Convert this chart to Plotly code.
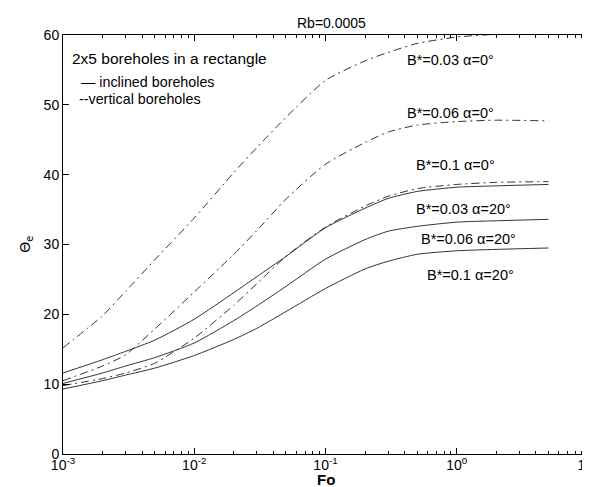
import plotly.graph_objects as go

# ---- data ----
fo = [0.001, 0.002, 0.003, 0.005, 0.01, 0.02, 0.03, 0.05, 0.1, 0.2, 0.3, 0.5, 1, 2, 5]

vert_003 = [15.2, 19.8, 23.3, 27.8, 33.8, 40.3, 43.9, 48.2, 53.5, 56.3, 57.5, 58.8, 59.7, 60.1, 60.3]
vert_006 = [10.5, 12.6, 14.2, 17.9, 23.2, 28.6, 32.0, 36.5, 41.5, 44.6, 46.1, 47.1, 47.6, 47.8, 47.7]
vert_010 = [9.8, 10.8, 11.6, 13.0, 16.6, 21.3, 24.4, 28.3, 32.5, 35.5, 36.9, 38.0, 38.6, 38.9, 39.0]
incl_003 = [11.6, 13.5, 14.7, 16.3, 19.3, 23.1, 25.4, 28.3, 32.4, 35.2, 36.6, 37.6, 38.2, 38.4, 38.6]
incl_006 = [10.1, 11.6, 12.6, 13.8, 15.9, 19.1, 21.2, 24.0, 27.9, 30.7, 31.9, 32.6, 33.2, 33.4, 33.6]
incl_010 = [9.3, 10.5, 11.3, 12.3, 14.1, 16.4, 18.0, 20.4, 23.7, 26.5, 27.6, 28.6, 29.1, 29.3, 29.5]

series = [
    ("B*=0.03 α=0°", vert_003, "vertical"),
    ("B*=0.06 α=0°", vert_006, "vertical"),
    ("B*=0.1 α=0°", vert_010, "vertical"),
    ("B*=0.03 α=20°", incl_003, "inclined"),
    ("B*=0.06 α=20°", incl_006, "inclined"),
    ("B*=0.1 α=20°", incl_010, "inclined"),
]

# curve label positions (log10 Fo, value)
label_pos = [(-0.051, 56.4), (-0.044, 48.9), (-0.013, 41.4),
             (0.055, 35.1), (0.093, 30.8), (0.101, 25.6)]

title_text = "Rb=0.0005"
x_title = "Fo"
y_title = "Θ<sub>e</sub>"
y_ticks = [0, 10, 20, 30, 40, 50, 60]
x_tickvals = [0.001, 0.01, 0.1, 1, 10]
x_ticktext = ["10<sup>-3</sup>", "10<sup>-2</sup>", "10<sup>-1</sup>", "10<sup>0</sup>", "10<sup>1</sup>"]

FONT = "Liberation Sans, Arial, sans-serif"

fig = go.Figure()
for name, vals, kind in series:
    fig.add_trace(go.Scatter(
        x=fo, y=vals, mode="lines", name=name,
        line=dict(color="#333333", width=1,
                  dash="solid" if kind == "inclined" else "8px,4px,2px,4px",
                  shape="spline", smoothing=0.6),
        showlegend=False,
    ))

annotations = []
for (name, _, _), (lx, ly) in zip(series, label_pos):
    annotations.append(dict(x=lx, y=ly, xref="x", yref="y", text=name,
                            showarrow=False, font=dict(size=14.5, color="black", family=FONT),
                            xanchor="center", yanchor="middle"))

annotations += [
    dict(x=0.511, y=1.0286, xref="paper", yref="paper", text=title_text,
         showarrow=False, xanchor="center", yanchor="middle",
         font=dict(size=14, color="black", family=FONT)),
    dict(x=-2.950, y=56.7, xref="x", yref="y", text="2x5 boreholes in a rectangle",
         showarrow=False, xanchor="left", yanchor="middle",
         font=dict(size=15.5, color="black", family=FONT)),
    dict(x=-2.875, y=53.2, xref="x", yref="y", text="— inclined boreholes",
         showarrow=False, xanchor="left", yanchor="middle",
         font=dict(size=14.3, color="black", family=FONT)),
    dict(x=-2.890, y=50.9, xref="x", yref="y", text="--vertical boreholes",
         showarrow=False, xanchor="left", yanchor="middle",
         font=dict(size=14.3, color="black", family=FONT)),
    dict(x=0.5, y=-0.0597, xref="paper", yref="paper", text="<b>" + x_title + "</b>",
         showarrow=False, xanchor="center", yanchor="middle",
         font=dict(size=15, color="black", family=FONT)),
    dict(x=-0.072, y=0.5, xref="paper", yref="paper", text=y_title, textangle=-90,
         showarrow=False, xanchor="center", yanchor="middle",
         font=dict(size=14, color="black", family="DejaVu Sans, sans-serif")),
]

fig.update_layout(
    width=590, height=487,
    margin=dict(l=55, r=10, t=27, b=41),
    paper_bgcolor="white", plot_bgcolor="white",
    font=dict(family=FONT, size=14, color="black"),
    annotations=annotations,
    xaxis=dict(type="log", range=[-3, 1], tickvals=x_tickvals, ticktext=x_ticktext,
               showgrid=False, zeroline=False, automargin=False,
               showline=True, linecolor="black", linewidth=1, mirror="ticks",
               ticks="inside", ticklen=6, tickcolor="black", ticklabeloverflow="allow",
               ticklabelstandoff=-2,
               minor=dict(ticks="inside", ticklen=3, tickcolor="black", dtick="D1", showgrid=False),
               tickfont=dict(size=14, color="black")),
    yaxis=dict(range=[0, 60], tickvals=y_ticks,
               showgrid=False, zeroline=False, automargin=False,
               showline=True, linecolor="black", linewidth=1, mirror="ticks",
               ticks="inside", ticklen=6, tickcolor="black",
               tickfont=dict(size=14, color="black")),
)

fig.write_html("out.html")
